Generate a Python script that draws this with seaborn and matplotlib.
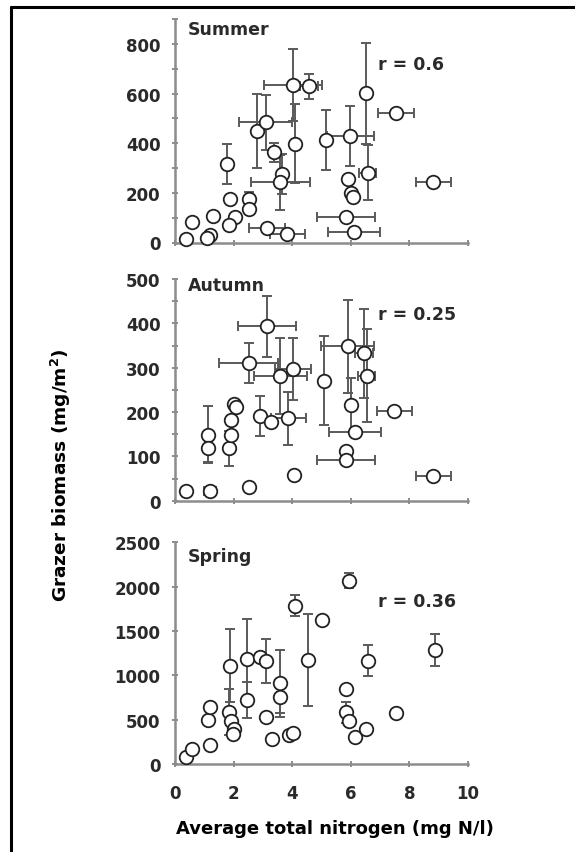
import matplotlib
matplotlib.use("Agg")
import matplotlib.pyplot as plt
from matplotlib.lines import Line2D
from matplotlib.ticker import MultipleLocator
import numpy as np
import pandas as pd
import seaborn as sns

# ---- Summer ----
summer_n = [0.38, 0.57, 1.2, 1.1, 1.29, 1.77, 1.89, 2.06, 1.85, 2.51, 2.51, 3.14, 3.83,
            2.8, 3.09, 3.37, 3.66, 3.6, 4.03, 4.57, 4.09, 5.14, 5.98, 6.51, 6.57,
            5.89, 6.02, 6.06, 7.54, 8.82, 5.83, 6.11]
summer_b = [16, 81, 30, 18, 105, 316, 177, 101, 70, 175, 134, 60, 34,
            450, 484, 363, 276, 242, 635, 629, 399, 414, 430, 601, 282,
            255, 200, 185, 520, 245, 101, 43]
summer_nerr = [0, 0, 0, 0, 0, 0, 0, 0, 0, 0, 0, 0.6, 0.6,
               0, 0.9, 0, 0, 1.0, 1.0, 0.3, 0, 0, 0.8, 0, 0.3,
               0, 0, 0, 0.6, 0.6, 1.0, 0.9]
summer_berr = [0, 0, 0, 0, 0, 80, 0, 0, 0, 30, 0, 0, 0,
               150, 110, 40, 80, 110, 145, 50, 160, 120, 120, 205, 110,
               0, 0, 0, 20, 0, 0, 0]

# ---- Autumn ----
autumn_n = [0.38, 1.2, 2.51, 4.06, 8.82, 5.83, 5.83, 6.14, 7.49, 1.14, 1.11, 1.83,
            1.92, 1.92, 2.0, 2.08, 2.51, 3.14, 2.89, 3.29, 3.6, 3.86, 4.03, 5.09,
            5.89, 6.46, 6.54, 6.02]
autumn_b = [23, 23, 30, 58, 56, 113, 92, 156, 203, 149, 118, 118,
            148, 183, 218, 212, 310, 393, 192, 178, 282, 186, 297, 271,
            348, 332, 282, 216]
autumn_nerr = [0, 0.2, 0, 0, 0.6, 0, 1.0, 0.9, 0.6, 0, 0, 0,
               0, 0, 0, 0, 1.0, 1.0, 0, 0, 0.9, 0.6, 0.6, 0,
               0.9, 0.3, 0.3, 0]
autumn_berr = [0, 0, 0, 0, 0, 0, 0, 0, 0, 65, 30, 40,
               0, 0, 0, 0, 45, 68, 45, 0, 86, 60, 70, 100,
               105, 100, 105, 60]

# ---- Spring ----
spring_n = [0.38, 0.57, 1.2, 1.14, 1.2, 1.83, 1.92, 2.03, 1.98, 1.89, 2.46, 2.46,
            2.89, 3.11, 3.11, 3.31, 3.6, 3.6, 3.89, 4.03, 4.09, 4.55, 5.03, 5.94,
            5.83, 5.83, 5.94, 6.14, 6.51, 6.57, 7.54, 8.86]
spring_b = [75, 169, 214, 496, 647, 583, 489, 395, 338, 1109, 722, 1184,
            1203, 1158, 534, 282, 910, 752, 331, 346, 1786, 1173, 1624, 2068,
            846, 583, 489, 301, 395, 1165, 571, 1286]
spring_berr = [0, 0, 0, 0, 0, 260, 0, 0, 0, 414, 200, 450,
               0, 250, 0, 0, 380, 180, 0, 0, 115, 515, 0, 85,
               0, 120, 0, 0, 0, 175, 0, 180]
spring_nerr = [0] * len(spring_n)

panels = [
    dict(name="Summer", r="r = 0.6", n=summer_n, b=summer_b, nerr=summer_nerr, berr=summer_berr,
         ylim=900, major=200, minor=100, name_y=0.955, r_y=0.80),
    dict(name="Autumn", r="r = 0.25", n=autumn_n, b=autumn_b, nerr=autumn_nerr, berr=autumn_berr,
         ylim=500, major=100, minor=50, name_y=0.975, r_y=0.842),
    dict(name="Spring", r="r = 0.36", n=spring_n, b=spring_b, nerr=spring_nerr, berr=spring_berr,
         ylim=2500, major=500, minor=500, name_y=0.938, r_y=0.735),
]

sns.set_style("ticks")
plt.rcParams["font.family"] = ["DejaVu Sans"]
plt.rcParams["font.weight"] = "bold"

W, H = 575, 853
fig = plt.figure(figsize=(W / 100, H / 100), dpi=100)

spine_c = "#8c8c8c"
text_c = "#2a2a2a"
left_px, right_px = 175, 468
bottoms_px = [243.5, 501.7, 765.0]
tops_px = [20.2, 280.0, 543.3]

for i, p in enumerate(panels):
    ax = fig.add_axes([left_px / W, 1 - bottoms_px[i] / H,
                       (right_px - left_px) / W, (bottoms_px[i] - tops_px[i]) / H])
    df = pd.DataFrame({"nitrogen": p["n"], "biomass": p["b"]})
    ax.errorbar(p["n"], p["b"], xerr=p["nerr"], yerr=p["berr"], fmt="none",
                ecolor="#5a5a5a", elinewidth=1.4, capsize=3.5, capthick=1.4, zorder=2)
    sns.scatterplot(data=df, x="nitrogen", y="biomass", ax=ax, marker="o", s=95,
                    facecolor="white", edgecolor="#222222", linewidth=1.3, zorder=3,
                    clip_on=False)
    ax.set_xlim(0, 10)
    ax.set_ylim(0, p["ylim"])
    ax.xaxis.set_major_locator(MultipleLocator(2))
    ax.yaxis.set_major_locator(MultipleLocator(p["major"]))
    ax.yaxis.set_minor_locator(MultipleLocator(p["minor"]))
    for s in ["top", "right"]:
        ax.spines[s].set_visible(False)
    for s in ["left", "bottom"]:
        ax.spines[s].set_color(spine_c)
        ax.spines[s].set_linewidth(1.8)
    ax.tick_params(axis="both", which="both", direction="inout", length=5, width=1.4,
                   color=spine_c, labelsize=12, labelcolor=text_c)
    ax.tick_params(axis="y", pad=8)
    ax.tick_params(axis="x", pad=12)
    ax.set_xlabel("")
    ax.set_ylabel("")
    if i < 2:
        ax.tick_params(axis="x", labelbottom=False)
    ax.text(0.044, p["name_y"], p["name"], transform=ax.transAxes, fontsize=12.5,
            fontweight="bold", color=text_c, va="center", ha="left")
    ax.text(0.693, p["r_y"], p["r"], transform=ax.transAxes, fontsize=12.5,
            fontweight="bold", color=text_c, va="center", ha="left")

fig.text(335 / W, 1 - 829 / H, "Average total nitrogen (mg N/l)", ha="center", va="center",
         fontsize=13, fontweight="bold", color="black")
fig.text(61 / W, 1 - 475 / H, "Grazer biomass (mg/m$^\\mathbf{2}$)", ha="center", va="center",
         rotation=90, fontsize=13.3, fontweight="bold", color="black")

# outer frame (left and top edges)
fx, fy = 10.5 / W, 1 - 7.5 / H
fig.add_artist(Line2D([fx, fx], [fy, -0.01], color="black", linewidth=2.2))
fig.add_artist(Line2D([fx, 1.01], [fy, fy], color="black", linewidth=2.2))

fig.savefig("out.png", dpi=100)
